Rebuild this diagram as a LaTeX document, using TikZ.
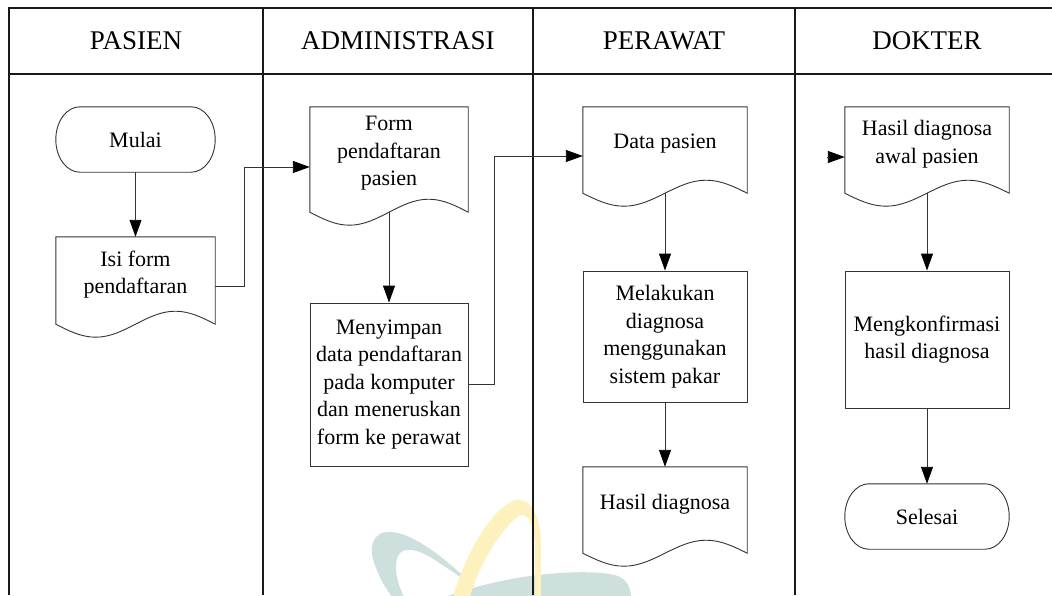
\documentclass[tikz,border=0pt]{standalone}
\usepackage{fontspec}
\setmainfont{Liberation Serif}
\usetikzlibrary{arrows.meta,calc}

\definecolor{wmteal}{RGB}{206,224,222}
\definecolor{wmyellow}{RGB}{253,241,190}

\tikzset{
  lane/.style={line width=1.4pt, draw=black!90},
  lanehead/.style={inner sep=0pt, font=\fontsize{27}{32}\selectfont},
  box/.style={inner sep=0pt, align=center, font=\fontsize{22}{27.5}\selectfont},
  procbox/.style={box, draw=black!80, line width=0.9pt},
  docbox/.style={box},
  termbox/.style={box},
  shapeline/.style={draw=black!80, line width=0.9pt},
  flow/.style={line width=0.9pt, draw=black!80, -{Triangle[length=17pt,width=12pt,fill=black,color=black]}},
}

% document symbol: straight top and sides, wavy bottom 12pt below the node
\newcommand\docoutline[1]{%
  \coordinate (#1-br) at ([yshift=-12pt]#1.south east);
  \coordinate (#1-bm) at ([yshift=-12pt]#1.south);
  \coordinate (#1-bl) at ([yshift=-12pt]#1.south west);
  \draw[shapeline] (#1.north west) -- (#1.north east) -- (#1-br)
    sin ($(#1-br)!0.5!(#1-bm)+(0pt,13pt)$)
    cos (#1-bm)
    sin ($(#1-bm)!0.5!(#1-bl)+(0pt,-13pt)$)
    cos (#1-bl) -- cycle;}

% terminator: flat top and bottom, elliptic ends
\newcommand\termoutline[1]{%
  \draw[shapeline] ([xshift=24pt]#1.north west) -- ([xshift=-24pt]#1.north east)
    .. controls +(13.3pt,0pt) and +(0pt,18pt) .. (#1.east)
    .. controls +(0pt,-18pt) and +(13.3pt,0pt) .. ([xshift=-24pt]#1.south east)
    -- ([xshift=24pt]#1.south west)
    .. controls +(-13.3pt,0pt) and +(0pt,-18pt) .. (#1.west)
    .. controls +(0pt,18pt) and +(-13.3pt,0pt) .. ([xshift=24pt]#1.north west) -- cycle;}

\begin{document}
\begin{tikzpicture}[x=1pt,y=-1pt]
\useasboundingbox[fill=white] (0,0) rectangle (1052,595);

% faint logo in the background
\fill[wmteal] (476,588) .. controls (455,568) and (420,535) .. (392,532)
  .. controls (372,530) and (368,548) .. (375,565)
  .. controls (380,580) and (387,590) .. (392,597) -- (404,597)
  .. controls (398,585) and (393,568) .. (398,556)
  .. controls (403,545) and (420,550) .. (435,560)
  .. controls (450,570) and (465,580) .. (476,588) -- cycle;
\fill[wmteal] (445,597) .. controls (470,588) and (500,580) .. (530,576)
  .. controls (560,572) and (600,570) .. (618,576)
  .. controls (628,580) and (631,590) .. (631,597) -- cycle;
\fill[wmyellow] (453,597) .. controls (465,555) and (490,510) .. (515,500)
  .. controls (530,497) and (540,515) .. (541,540) -- (541,597) -- (535,597) -- (535,545)
  .. controls (534,525) and (528,513) .. (520,515)
  .. controls (505,525) and (480,560) .. (470,597) -- cycle;

% swimlane grid
\draw[lane] (9,595) -- (9,8) -- (1052,8);
\draw[lane] (9,74) -- (1052,74);
\draw[lane] (263,8) -- (263,595);
\draw[lane] (533,8) -- (533,595);
\draw[lane] (795,8) -- (795,595);

\node[lanehead] (hpasien) at (136,41) {PASIEN};
\node[lanehead] (hadmin) at (398,41) {ADMINISTRASI};
\node[lanehead] (hperawat) at (664,41) {PERAWAT};
\node[lanehead] (hdokter) at (927,41) {DOKTER};

% PASIEN
\node[termbox, minimum width=159pt, minimum height=65pt] (mulai) at (135.5,139.5) {Mulai};
\node[docbox, minimum width=159pt, minimum height=75pt] (isi) at (135.5,274.5) {Isi form\\pendaftaran};

% ADMINISTRASI
\node[docbox, minimum width=158pt, minimum height=93pt] (form) at (389,153.5) {Form\\pendaftaran\\pasien};
\node[procbox, minimum width=158pt, minimum height=163pt] (simpan) at (389,384.5)
  {Menyimpan\\data pendaftaran\\pada komputer\\dan meneruskan\\form ke perawat};

% PERAWAT
\node[docbox, minimum width=164pt, minimum height=74pt] (dp) at (665,144) {Data pasien};
\node[procbox, minimum width=164pt, minimum height=131pt] (diag) at (665,336.5)
  {Melakukan\\diagnosa\\menggunakan\\sistem pakar};
\node[docbox, minimum width=164pt, minimum height=74pt] (hd) at (665,504) {Hasil diagnosa};

% DOKTER
\node[docbox, minimum width=164pt, minimum height=74pt] (hda) at (927,144) {Hasil diagnosa\\awal pasien};
\node[procbox, minimum width=164pt, minimum height=137pt] (konf) at (927,339.5)
  {Mengkonfirmasi\\hasil diagnosa};
\node[termbox, minimum width=164pt, minimum height=65pt] (selesai) at (927,516.5) {Selesai};

\termoutline{mulai}
\termoutline{selesai}
\docoutline{isi}
\docoutline{form}
\docoutline{dp}
\docoutline{hd}
\docoutline{hda}

% flows
\draw[flow] (mulai.south) -- (isi.north);
\draw[flow] ([yshift=-11.5pt]isi.east) -- ++(29,0) |- ([yshift=-13.5pt]form.west);
\draw[flow] (form-bm) -- (simpan.north);
\draw[flow] (simpan.east) -- ++(26,0) |- ([yshift=-12pt]dp.west);
\draw[flow] (dp-bm) -- (diag.north);
\draw[flow] (diag.south) -- (hd.north);
\coordinate (hdain) at ([xshift=-18pt,yshift=-13pt]hda.west);
\draw[flow] (hdain) -- ([yshift=-13pt]hda.west);
\draw[flow] (hda-bm) -- (konf.north);
\draw[flow] (konf.south) -- (selesai.north);
\end{tikzpicture}
\end{document}
